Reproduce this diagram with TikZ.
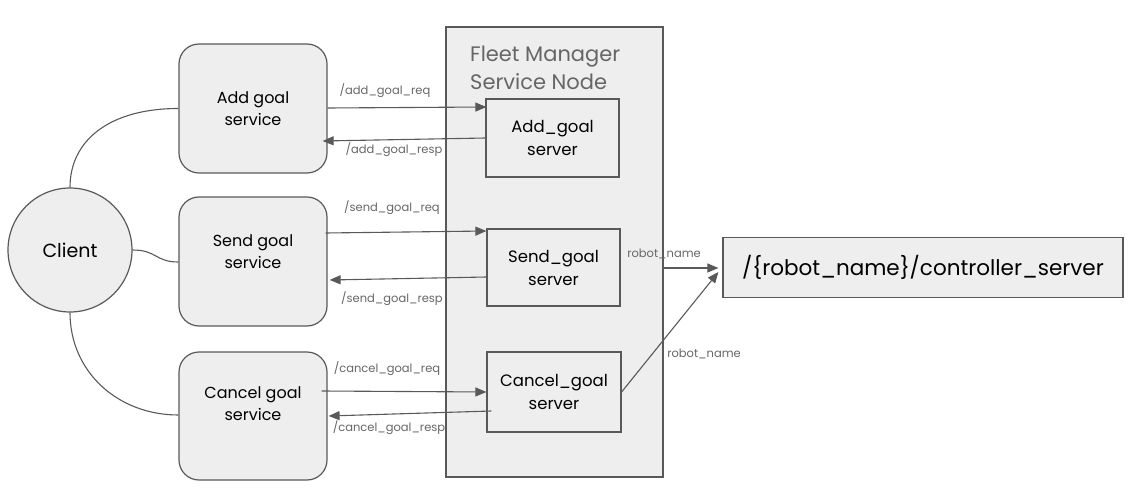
\documentclass[tikz,border=0pt]{standalone}
\usepackage{fontspec}
\setmainfont{Poppins}
\usetikzlibrary{arrows.meta,calc}
\definecolor{strokeg}{HTML}{595959}
\definecolor{fillg}{HTML}{EEEEEE}
\definecolor{labelg}{HTML}{666666}
\tikzset{
  svcbox/.style={draw=strokeg,fill=fillg,line width=1.2pt,rounded corners=20pt,minimum width=148pt,minimum height=129pt,align=center,font=\fontsize{16}{22}\selectfont,inner sep=0pt},
  srvbox/.style={draw=strokeg,fill=fillg,line width=1.2pt,minimum width=133pt,minimum height=78pt,align=center,font=\fontsize{16.5}{23}\selectfont,inner sep=0pt},
  conn/.style={draw=strokeg,line width=1.1pt,-{Triangle[length=11pt,width=9pt]}},
  link/.style={draw=strokeg,line width=1.1pt},
  lbl/.style={text=labelg,font=\fontsize{11.5}{13}\selectfont,inner sep=0pt}
}
\begin{document}
\begin{tikzpicture}[x=1pt,y=-1pt]
\useasboundingbox (0,0) rectangle (1135,497);
% fleet manager container
\node[draw=strokeg,fill=fillg,line width=1.2pt,minimum width=217pt,minimum height=450pt,inner sep=0pt] (fleet) at (554.5,252) {};
\node[text=labelg,font=\fontsize{21}{28}\selectfont,align=left,anchor=north west,inner sep=0pt] (title) at (470,46) {Fleet Manager\\Service Node};
% client
\node[draw=strokeg,fill=fillg,line width=1.2pt,circle,minimum size=124pt,inner sep=0pt,font=\fontsize{19}{22}\selectfont] (client) at (70,250) {Client};
% services
\node[svcbox] (addsvc) at (253,108.5) {Add goal\\service};
\node[svcbox,text depth=20pt] (sendsvc) at (253,261.5) {Send goal\\service};
\node[svcbox,minimum height=128pt,text depth=24pt] (cancelsvc) at (253,416) {Cancel goal\\service};
% servers
\node[srvbox,text depth=-2pt] (addsrv) at (552.5,138) {Add\_goal\\server};
\node[srvbox,minimum height=77pt] (sendsrv) at (553.5,267.5) {Send\_goal\\server};
\node[srvbox,minimum width=134pt,minimum height=80pt,text depth=-1pt] (cancelsrv) at (554,392) {Cancel\_goal\\server};
% controller
\node[draw=strokeg,fill=fillg,line width=1.2pt,minimum width=400pt,minimum height=60pt,inner sep=0pt,font=\fontsize{21.5}{26}\selectfont] (ctrl) at (923,267.5) {/\{robot\_name\}/controller\_server};
% client links
\draw[link] (client.north) .. controls (70,140) and (110,108.5) .. (addsvc.west);
\draw[link] (client.east) .. controls (157,250) and (155,262) .. ($(sendsvc.west)+(0,0.5)$);
\draw[link] (client.south) .. controls (70,372) and (118,415) .. ($(cancelsvc.west)+(0,-1)$);
% service arrows
\draw[conn] ($(addsvc.east)+(0,-0.5)$) -- ($(addsrv.west)+(1,-31)$);
\draw[conn] (addsrv.west) -- ($(addsvc.east)+(-5,32.5)$);
\draw[conn] ($(sendsvc.east)+(-2,-28.5)$) -- ($(sendsrv.west)+(0,-36.5)$);
\draw[conn] ($(sendsrv.west)+(0,9.5)$) -- ($(sendsvc.east)+(2,18.5)$);
\draw[conn] ($(cancelsvc.east)+(-6,-25)$) -- (cancelsrv.west);
\draw[conn] ($(cancelsrv.west)+(5,19)$) -- ($(cancelsvc.east)+(1,0)$);
% robot_name arrows
\draw[conn] ($(fleet.east)+(0,16)$) -- ($(ctrl.west)+(-4,0.5)$);
\draw[conn] (cancelsrv.east) -- ($(ctrl.west)+(-4,4.5)$);
% labels
\node[lbl] (l1) at (385,91) {/add\_goal\_req};
\node[lbl] (l2) at (394,150) {/add\_goal\_resp};
\node[lbl] (l3) at (392,208) {/send\_goal\_req};
\node[lbl] (l4) at (392,299) {/send\_goal\_resp};
\node[lbl] (l5) at (387,369) {/cancel\_goal\_req};
\node[lbl] (l6) at (389,428) {/cancel\_goal\_resp};
\node[lbl] (l7) at (664,254) {robot\_name};
\node[lbl] (l8) at (704,354) {robot\_name};
\end{tikzpicture}
\end{document}
